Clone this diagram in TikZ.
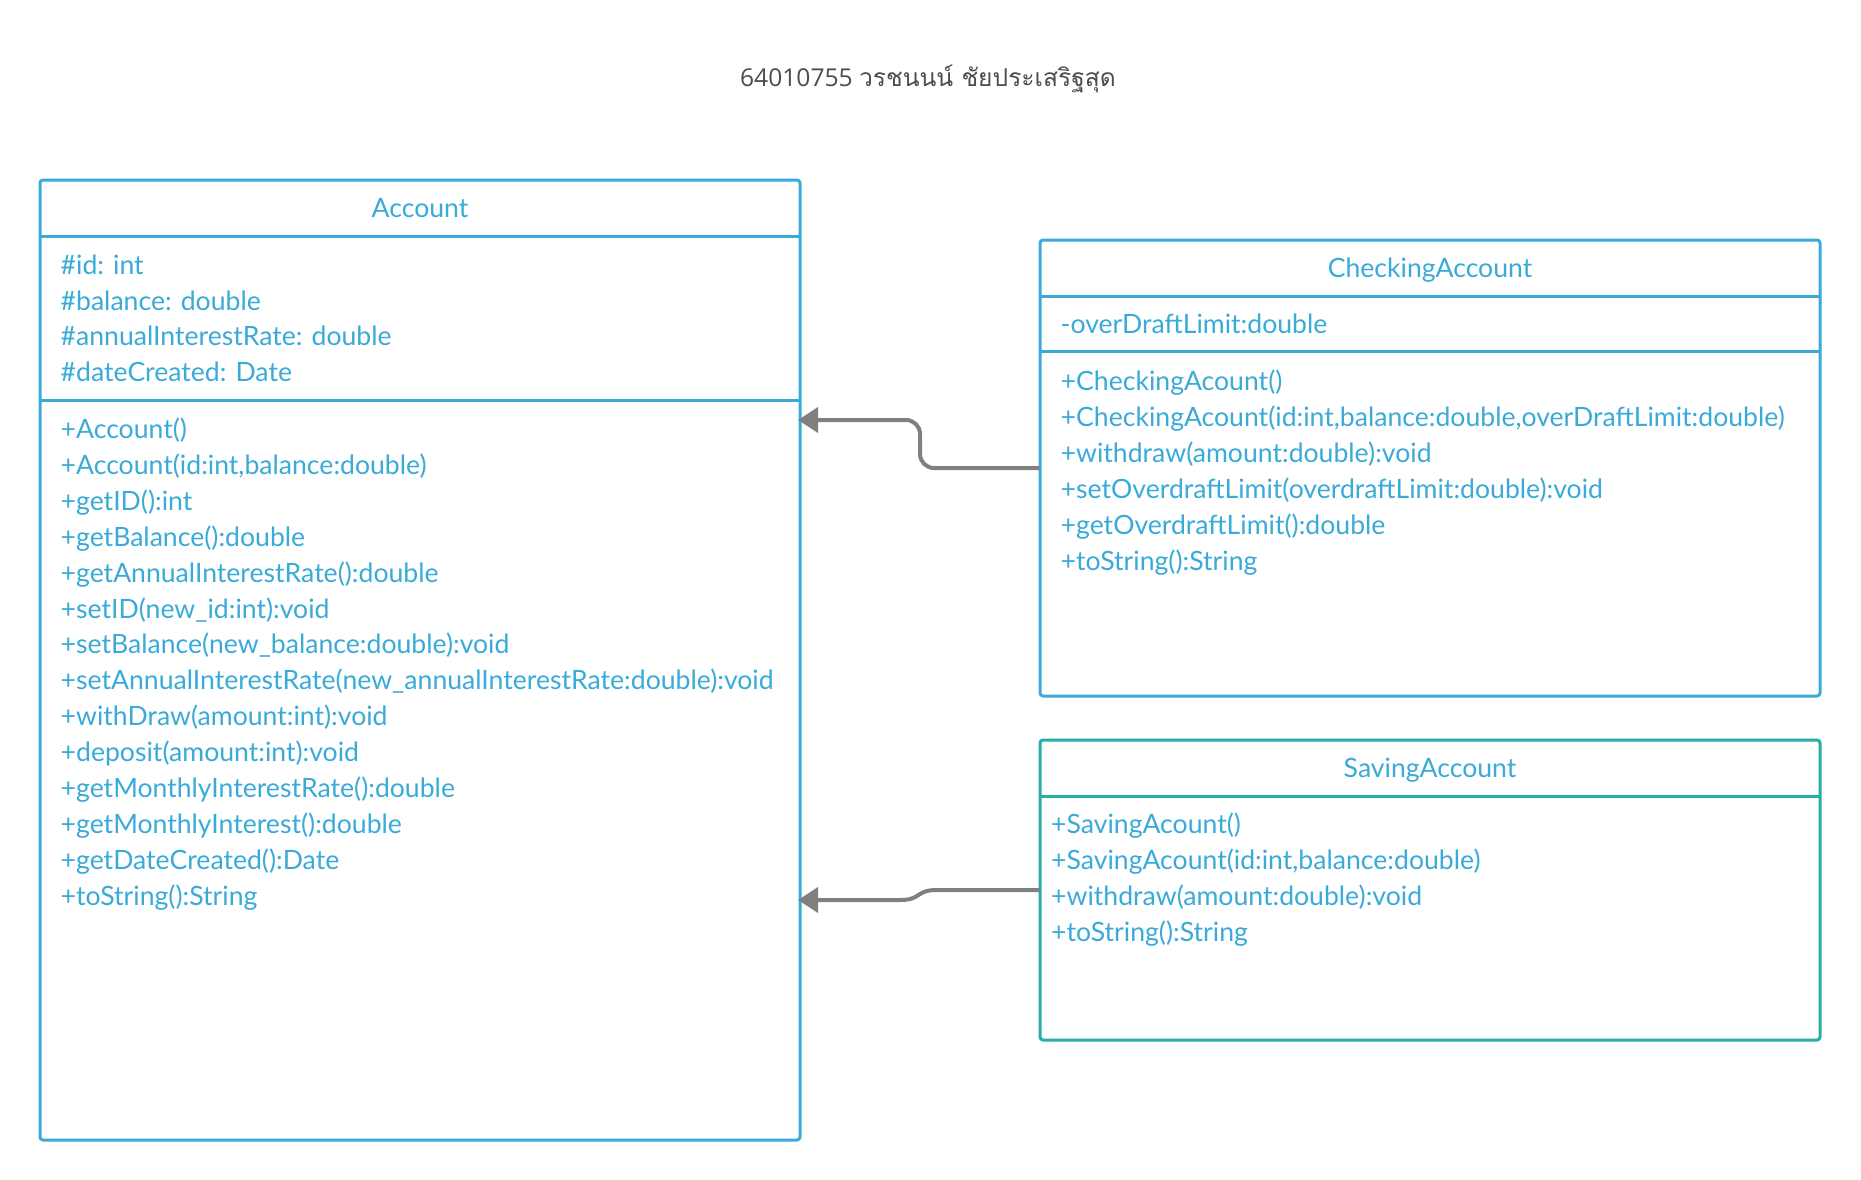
\documentclass[tikz,border=0pt]{standalone}
\usepackage{fontspec}
\setmainfont{Lato}
\newfontfamily\titlefont{Open Sans}
\newfontfamily\thaifont[Script=Thai]{Loma}
\usetikzlibrary{calc,arrows.meta}
\definecolor{umlblue}{RGB}{58,170,216}
\definecolor{umlteal}{RGB}{38,174,168}
\definecolor{conngray}{RGB}{128,128,128}
\definecolor{titlegray}{RGB}{77,77,77}
\begin{document}
\begin{tikzpicture}[x=1pt,y=-1pt,
  classbox/.style={draw=umlblue, line width=3pt, rounded corners=3pt, inner sep=0pt, outer sep=0pt, fill=white},
  divider/.style={draw=umlblue, line width=3pt},
  txt/.style={anchor=base west, inner sep=0pt, text=umlblue, font=\fontsize{26.6}{30}\selectfont},
  hdr/.style={anchor=base, inner sep=0pt, text=umlblue, font=\fontsize{26.6}{30}\selectfont},
  conn/.style={draw=conngray, line width=4pt, -{Triangle[length=20pt,width=25pt]}}
]
\useasboundingbox (0,0) rectangle (1861,1180);
\fill[white] (0,0) rectangle (1861,1180);

% title
\node[anchor=base, inner sep=0pt, text=titlegray] (title) at (928,87)
  {\fontsize{24.6}{30}\selectfont\titlefont 64010755 \thaifont วรชนนน์ ชัยประเสริฐสุด};

% boxes
\node[classbox, minimum width=760pt, minimum height=960pt] (acc) at (420,660) {};
\node[classbox, minimum width=780pt, minimum height=456pt] (chk) at (1430,468) {};
\node[classbox, draw=umlteal, minimum width=780pt, minimum height=300pt] (sav) at (1430,890) {};

% dividers
\draw[divider] ($(acc.north west)+(0,56)$) -- ($(acc.north east)+(0,56)$);
\draw[divider] ($(acc.north west)+(0,220)$) -- ($(acc.north east)+(0,220)$);
\draw[divider] ($(chk.north west)+(0,56)$) -- ($(chk.north east)+(0,56)$);
\draw[divider] ($(chk.north west)+(0,111)$) -- ($(chk.north east)+(0,111)$);
\draw[divider, draw=umlteal] ($(sav.north west)+(0,56)$) -- ($(sav.north east)+(0,56)$);

% headers
\node[hdr] (accname) at (420,217) {Account};
\node[hdr] (chkname) at (1430,277) {CheckingAccount};
\node[hdr] (savname) at (1430,777) {SavingAccount};

% Account attributes
\foreach \t [count=\i from 0] in {\#id: int,\#balance: double,\#annualInterestRate: double,\#dateCreated: Date}
  \node[txt] (aa\i) at (60.5,274.5+35.6*\i) {\t};

% Account methods
\foreach \t [count=\i from 0] in {+Account(),+Account(id:int{,}balance:double),+getID():int,+getBalance():double,+getAnnualInterestRate():double,+setID(new\_id:int):void,+setBalance(new\_balance:double):void,+setAnnualInterestRate(new\_annualInterestRate:double):void,+withDraw(amount:int):void,+deposit(amount:int):void,+getMonthlyInterestRate():double,+getMonthlyInterest():double,+getDateCreated():Date,+toString():String}
  \node[txt] (am\i) at (60.5,438.5+35.9*\i) {\t};

% Checking
\node[txt] (ca0) at (1060.5,333) {-overDraftLimit:double};
\foreach \t [count=\i from 0] in {+CheckingAcount(),+CheckingAcount(id:int{,}balance:double{,}overDraftLimit:double),+withdraw(amount:double):void,+setOverdraftLimit(overdraftLimit:double):void,+getOverdraftLimit():double,+toString():String}
  \node[txt] (cm\i) at (1060.5,390+36*\i) {\t};

% Saving
\foreach \t [count=\i from 0] in {+SavingAcount(),+SavingAcount(id:int{,}balance:double),+withdraw(amount:double):void,+toString():String}
  \node[txt] (sm\i) at (1051,833.5+36*\i) {\t};

% connectors
\coordinate (k1) at ($(acc.north east)+(-2,240)$);
\coordinate (k2) at ($(acc.north east)+(-2,720)$);
\draw[conn, rounded corners=14pt] (chk.west) -- (920,468) -- (920,420) -- (k1);
\draw[conn] (sav.west) -- (937,890) .. controls (915,890) and (922,900) .. (900,900) -- (k2);
\end{tikzpicture}
\end{document}
